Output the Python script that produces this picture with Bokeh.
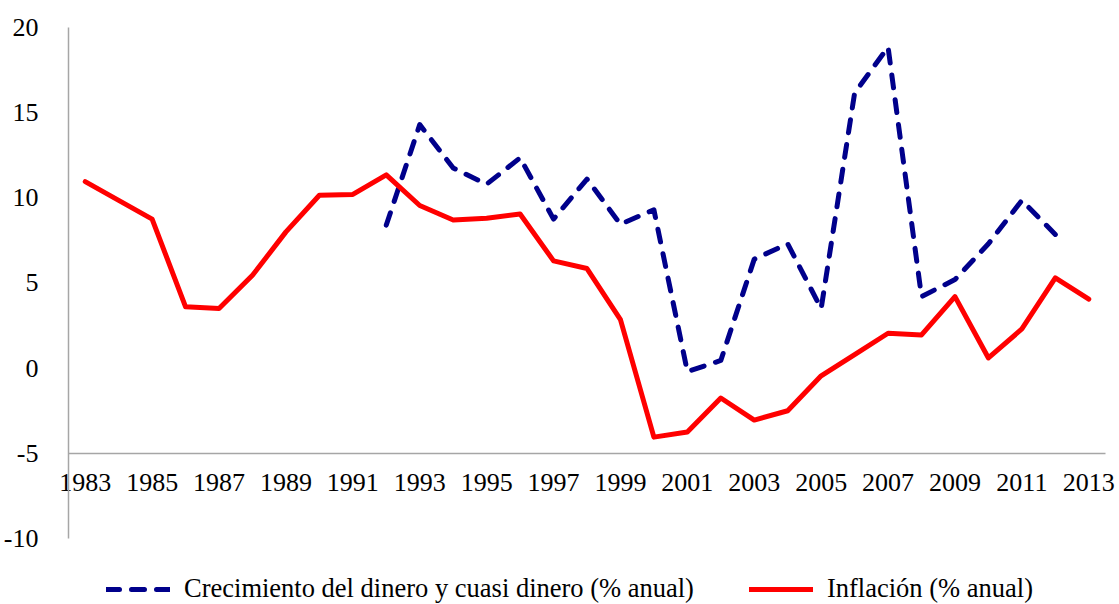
from bokeh.plotting import figure
from bokeh.models import Legend, LegendItem, FixedTicker
from bokeh.embed import file_html
from bokeh.resources import INLINE

years = list(range(1983, 2014))
inflation = [10.95, 9.85, 8.75, 3.6, 3.5, 5.45, 8.0, 10.15, 10.2, 11.35, 9.55,
             8.7, 8.8, 9.05, 6.3, 5.85, 2.85, -4.05, -3.75, -1.75, -3.05, -2.5,
             -0.45, 0.8, 2.05, 1.95, 4.2, 0.6, 2.3, 5.3, 4.05]

money_years = list(range(1992, 2013))
money = [8.4, 14.3, 11.75, 10.8, 12.35, 8.75, 11.1, 8.45, 9.3, -0.2, 0.45,
         6.4, 7.3, 3.5, 16.15, 18.85, 4.2, 5.2, 7.3, 9.85, 7.85]

x_ticks = list(range(1983, 2014, 2))
y_ticks = [-10, -5, 0, 5, 10, 15, 20]
y_tick_labels = ["-10", "-5", "0", "5", "10", "15", "20"]

label_money = "Crecimiento del dinero y cuasi dinero (% anual)"
label_infl = "Inflación (% anual)"

FONT = "Liberation Serif"
AXIS_COLOR = "#a6a6a6"
W, H = 1119, 604
PX_Y = 17.033   # pixels per unit on y
PX_X = 33.452   # pixels per year on x
LEFT, TOP, RIGHT = 68, 27, 1105   # where the axes sit on the canvas

# the frame covers the whole canvas; the axes sit at fixed data positions
x_lo = 1982.5 - LEFT / PX_X
x_hi = 2013.5 + (W - RIGHT) / PX_X
y_hi = 20 + TOP / PX_Y
y_lo = 20 - (H - TOP) / PX_Y

p = figure(frame_width=W, frame_height=H,
           x_range=(x_lo, x_hi), y_range=(y_lo, y_hi),
           output_backend="svg", toolbar_location=None,
           min_border_left=0, min_border_right=0, min_border_top=0,
           min_border_bottom=0)
p.grid.visible = False
p.outline_line_color = None

r_money = p.line(money_years, money, line_color="#00008B", line_width=5,
                 line_dash="13 12", line_cap="round", line_join="round")
r_infl = p.line(years, inflation, line_color="#FF0000", line_width=5,
                line_cap="round", line_join="round")

# y axis at the left edge of the category area
ya = p.yaxis[0]
ya.fixed_location = 1982.5
ya.ticker = FixedTicker(ticks=y_ticks)
ya.major_label_overrides = {t: s for t, s in zip(y_ticks, y_tick_labels)}
ya.bounds = (-10, 20)
ya.major_tick_line_color = None
ya.minor_tick_line_color = None
ya.axis_line_color = AXIS_COLOR
ya.axis_line_width = 1.5
ya.major_label_standoff = 24
ya.major_label_text_font = FONT
ya.major_label_text_font_size = "26px"
ya.major_label_text_color = "black"

# x axis crossing at y = -5
xa = p.xaxis[0]
xa.fixed_location = -5
xa.ticker = FixedTicker(ticks=x_ticks)
xa.bounds = (1982.5, 2013.5)
xa.major_tick_line_color = None
xa.minor_tick_line_color = None
xa.axis_line_color = AXIS_COLOR
xa.axis_line_width = 1.5
xa.major_label_standoff = 15
xa.major_label_text_font = FONT
xa.major_label_text_font_size = "26px"
xa.major_label_text_color = "black"

legend = Legend(items=[LegendItem(label=label_money, renderers=[r_money]),
                       LegendItem(label=label_infl, renderers=[r_infl])],
                orientation="horizontal", location=(106, 0),
                label_text_font=FONT, label_text_font_size="26.5px",
                label_text_color="black", glyph_width=64, glyph_height=28,
                label_standoff=14, spacing=55, padding=0, margin=0,
                border_line_color=None, background_fill_alpha=0)
p.add_layout(legend, "center")

open("out.html", "w").write(file_html(p, INLINE))
